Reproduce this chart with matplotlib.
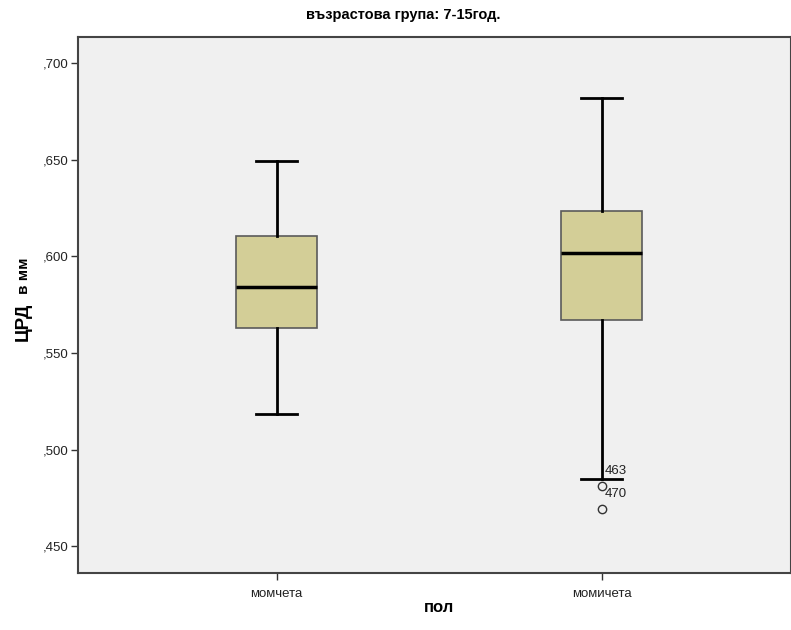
import numpy as np
import matplotlib.pyplot as plt

plt.rcParams['font.family'] = ['Liberation Sans', 'DejaVu Sans']

# data
groups = ['момчета', 'момичета']
whislo = [0.5184, 0.4848]
q1 = [0.5629, 0.5670]
med = [0.5841, 0.6017]
q3 = [0.6105, 0.6234]
whishi = [0.6493, 0.6819]
outliers = [[], [0.4812, 0.4693]]
outlier_ids = [[], ['463', '470']]
yticks = [0.45, 0.50, 0.55, 0.60, 0.65, 0.70]

stats = []
for i, g in enumerate(groups):
    stats.append(dict(label=g, whislo=whislo[i], q1=q1[i], med=med[i],
                      q3=q3[i], whishi=whishi[i], fliers=outliers[i]))

fig = plt.figure(figsize=(7.91, 6.30), dpi=100)
ax = fig.add_axes([78 / 791, 57 / 630, 1 - 78 / 791, 536 / 630])
ax.set_facecolor('#f0f0f0')

pos = np.arange(len(groups))
ax.bxp(stats, positions=pos, widths=0.25, patch_artist=True,
       boxprops=dict(facecolor='#d3ce97', edgecolor='#5a5a5a', lw=1.2),
       whiskerprops=dict(color='black', lw=2.0),
       capprops=dict(color='black', lw=2.0),
       medianprops=dict(color='black', lw=2.5),
       flierprops=dict(marker='o', mfc='none', mec='#333333', ms=6, mew=1.0),
       capwidths=0.125)

for i in pos:
    for v, lab in zip(outliers[i], outlier_ids[i]):
        ax.annotate(lab, (i, v), xytext=(2, 11), textcoords='offset points',
                    fontsize=9.5, ha='left', va='center', color='#222222')

ax.set_xlim(-0.611, 1.583)
ax.set_ylim(0.4362, 0.7135)
ax.set_yticks(yticks)
ax.set_yticklabels([',' + ('%.3f' % t)[2:] for t in yticks],
                   fontsize=9.5, color='#222222')
ax.set_xticks(pos)
ax.set_xticklabels(groups, fontsize=9.5, color='#222222')
ax.tick_params(axis='both', direction='out', length=5, width=1, color='#333333')
ax.tick_params(axis='y', pad=1.5)
ax.tick_params(axis='x', pad=6)
for s in ax.spines.values():
    s.set_color('#444444')
    s.set_linewidth(1.5)

fig.text(403 / 791, 1 - 15 / 630, 'възрастова група: 7-15год.', ha='center',
         va='center', fontsize=10.5, fontweight='bold')
fig.text(439 / 791, 1 - 607 / 630, 'пол', ha='center', va='center',
         fontsize=12, fontweight='bold')
fig.text(28 / 791, 1 - 341 / 630, 'ЦРД', ha='left', va='baseline',
         fontsize=13.5, fontweight='bold', rotation=90, rotation_mode='anchor')
fig.text(28 / 791, 1 - 294 / 630, 'в мм', ha='left', va='baseline',
         fontsize=11, fontweight='bold', rotation=90, rotation_mode='anchor')

fig.savefig('out.png', dpi=100)
